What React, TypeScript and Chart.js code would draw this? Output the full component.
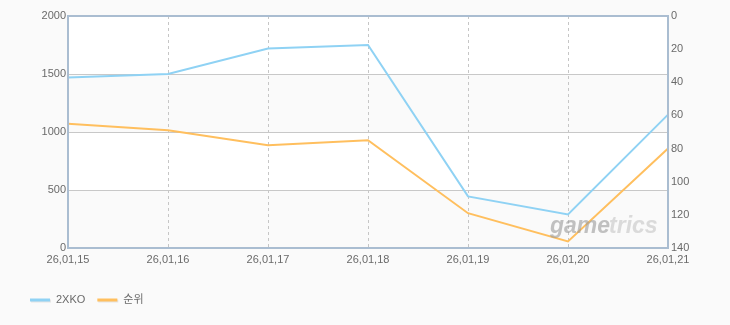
import React, { useEffect, useRef } from "react";
import { Chart, registerables } from "chart.js";

Chart.register(...registerables);

const categories = ["26,01,15", "26,01,16", "26,01,17", "26,01,18", "26,01,19", "26,01,20", "26,01,21"];
const seriesA = [1470, 1500, 1720, 1750, 445, 290, 1150];
const seriesRank = [65, 69, 78, 75, 119, 136, 80];
const seriesNames = ["2XKO", "순위"];
const seriesColors = ["#8fd2f4", "#ffbf5e"];
const leftTicks = { min: 0, max: 2000, step: 500 };
const rightTicks = { min: 0, max: 140, step: 20 };

const FONT = "'Liberation Sans', Arial, 'Noto Sans CJK KR', sans-serif";
const TEXT = "#6a6a6a";

const bandsPlugin = {
  id: "bands",
  beforeDraw(chart: any) {
    const { ctx, chartArea } = chart;
    const y = chart.scales.y;
    ctx.save();
    ctx.fillStyle = "#ffffff";
    ctx.fillRect(chartArea.left, chartArea.top, chartArea.right - chartArea.left, chartArea.bottom - chartArea.top);
    ctx.fillStyle = "#fafafa";
    let i = 0;
    for (let v = leftTicks.min; v < leftTicks.max; v += leftTicks.step) {
      if (i % 2 === 0) {
        const y0 = y.getPixelForValue(v);
        const y1 = y.getPixelForValue(v + leftTicks.step);
        ctx.fillRect(chartArea.left, y1, chartArea.right - chartArea.left, y0 - y1);
      }
      i++;
    }
    ctx.restore();
  },
  afterDatasetsDraw(chart: any) {
    const { ctx, chartArea } = chart;
    ctx.save();
    // watermark
    ctx.globalAlpha = 0.6;
    ctx.font = "italic bold 23px 'Liberation Sans', Arial, sans-serif";
    ctx.textBaseline = "alphabetic";
    const x0 = chartArea.right - 118;
    const yb = chartArea.bottom - 15;
    ctx.fillStyle = "#9a9a9a";
    ctx.fillText("game", x0, yb);
    const w = ctx.measureText("game").width;
    ctx.fillStyle = "#c4c4c4";
    ctx.fillText("trics", x0 + w - 1, yb);
    ctx.restore();

    ctx.save();
    ctx.strokeStyle = "#aabdd1";
    ctx.lineWidth = 2;
    ctx.strokeRect(chartArea.left, chartArea.top, chartArea.right - chartArea.left, chartArea.bottom - chartArea.top);
    ctx.restore();

    // legend
    ctx.save();
    ctx.font = `11px ${FONT}`;
    ctx.textBaseline = "middle";
    let lx = 30;
    const ly = 300;
    chart.data.datasets.forEach((ds: any) => {
      ctx.fillStyle = "#e4e4e4";
      ctx.fillRect(lx + 1, ly - 0.5, 20, 3);
      ctx.fillStyle = ds.borderColor;
      ctx.fillRect(lx, ly - 1.5, 20, 3);
      ctx.fillStyle = TEXT;
      ctx.fillText(ds.label, lx + 26, ly);
      lx += 26 + ctx.measureText(ds.label).width + 12;
    });
    ctx.restore();
  },
};

const plain = (v: any) => String(v);

export default function App() {
  const ref = useRef<HTMLCanvasElement>(null);
  useEffect(() => {
    if (!ref.current) return;
    const chart = new Chart(ref.current, {
      type: "line",
      data: {
        labels: categories,
        datasets: [
          {
            label: seriesNames[0],
            data: seriesA,
            borderColor: seriesColors[0],
            backgroundColor: seriesColors[0],
            borderWidth: 2,
            pointRadius: 0,
            tension: 0,
            yAxisID: "y",
          },
          {
            label: seriesNames[1],
            data: seriesRank,
            borderColor: seriesColors[1],
            backgroundColor: seriesColors[1],
            borderWidth: 2,
            pointRadius: 0,
            tension: 0,
            yAxisID: "y1",
          },
        ],
      },
      options: {
        animation: false,
        responsive: false,
        events: [],
        layout: { padding: { top: 16, left: 0, right: 0, bottom: 0 } },
        plugins: { legend: { display: false }, tooltip: { enabled: false } },
        scales: {
          x: {
            type: "category",
            offset: false,
            grid: { color: "#c6c6c6", drawTicks: false, lineWidth: 1 },
            border: { display: false, dash: [3, 3] },
            ticks: { color: TEXT, font: { family: FONT, size: 11 }, padding: 5, maxRotation: 0, autoSkip: false },
            afterFit(scale: any) {
              scale.height = 77;
            },
          },
          y: {
            position: "left",
            min: leftTicks.min,
            max: leftTicks.max,
            grid: { color: "#c8c8c8", drawTicks: false },
            border: { display: false },
            ticks: { stepSize: leftTicks.step, color: TEXT, font: { family: FONT, size: 11 }, padding: 2, callback: plain },
            afterFit(scale: any) {
              scale.width = 68;
            },
          },
          y1: {
            position: "right",
            reverse: true,
            min: rightTicks.min,
            max: rightTicks.max,
            grid: { display: false, drawTicks: false },
            border: { display: false },
            ticks: { stepSize: rightTicks.step, color: TEXT, font: { family: FONT, size: 11 }, padding: 3, callback: plain },
            afterFit(scale: any) {
              scale.width = 62;
            },
          },
        },
      },
      plugins: [bandsPlugin],
    });
    return () => chart.destroy();
  }, []);
  return (
    <div style={{ position: "fixed", left: 0, top: 0, width: 730, height: 325, background: "#fafafa" }}>
      <canvas ref={ref} width={730} height={325} style={{ display: "block", width: 730, height: 325 }} />
    </div>
  );
}
